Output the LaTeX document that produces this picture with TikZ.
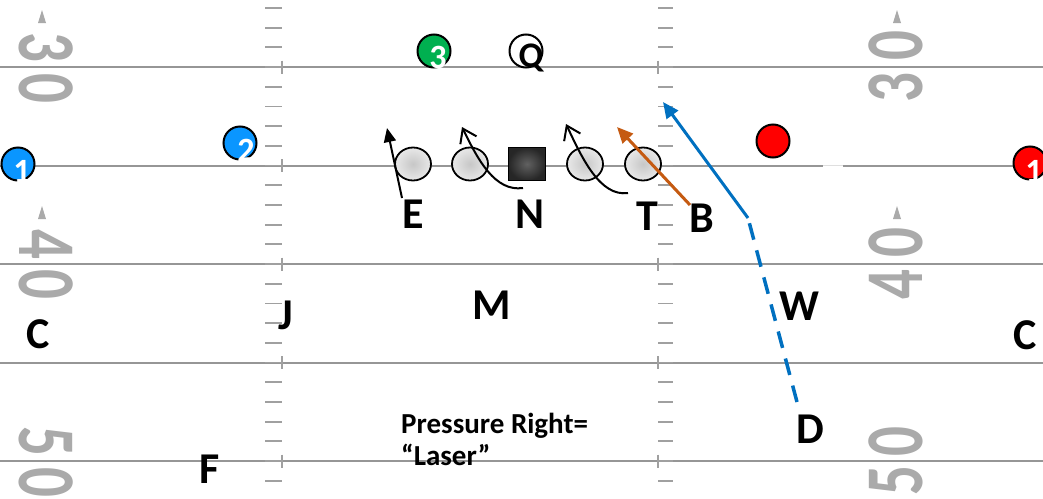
\documentclass[tikz,border=0pt]{standalone}
\usepackage{fontspec}
\setmainfont{Carlito}
\usetikzlibrary{arrows.meta,shapes.geometric}

\definecolor{fieldline}{RGB}{150,150,150}
\definecolor{hashgray}{RGB}{160,160,160}
\definecolor{numgray}{RGB}{170,170,170}
\definecolor{pblue}{RGB}{10,150,255}
\definecolor{pgreen}{RGB}{0,176,80}
\definecolor{pred}{RGB}{255,0,0}
\definecolor{rushblue}{RGB}{0,112,192}
\definecolor{rushbrown}{RGB}{197,90,17}

% narrow digits for the painted yard numbers
\newcommand\fielddigit[1]{\scalebox{0.72}[1]{#1}}

\begin{document}
\begin{tikzpicture}[x=1pt,y=-1pt,
  yardline/.style={draw=fieldline,line width=2pt},
  hashmark/.style={draw=hashgray,line width=1.8pt},
  yardnum/.style={text=numgray,inner sep=0pt,font=\fontsize{82}{82}\selectfont\bfseries},
  numarrow/.style={fill=numgray},
  player/.style={circle,draw=black,line width=2pt,minimum size=33pt,inner sep=0pt},
  pnum/.style={text=white,inner sep=0pt,font=\fontsize{34}{34}\selectfont\bfseries},
  lineman/.style={ellipse,draw=black,line width=1.8pt,minimum width=36pt,minimum height=33pt,
    inner sep=0pt,inner color=black!22,outer color=black!9},
  snapper/.style={rectangle,draw=black,line width=1.8pt,minimum width=37pt,minimum height=33pt,
    inner sep=0pt,inner color=black!62,outer color=black!85},
  lbl/.style={inner sep=0pt,font=\fontsize{44}{44}\selectfont\bfseries},
  note/.style={inner sep=0pt,font=\fontsize{29}{29}\selectfont\bfseries},
  blkpath/.style={draw=black,line width=2pt},
  openhead/.style={-{Straight Barb[length=13pt,width=18pt]}},
  solidhead/.style={-{Triangle[length=16pt,width=14pt]}}
]
\useasboundingbox (0,0) rectangle (1043,498);
\clip (0,0) rectangle (1043,498);
\fill[white] (0,0) rectangle (1043,498);

% yard lines
\foreach \yy in {67,264,362.5,461}
  \draw[yardline] (0,\yy) -- (1043,\yy);
\draw[yardline] (0,165.5) -- (823,165.5);
\draw[draw=fieldline!30,line width=1.5pt] (823,165.5) -- (843,165.5);
\draw[yardline] (843,165.5) -- (1043,165.5);

% hash marks, one per yard
\foreach \i in {-3,...,21}{
  \pgfmathsetmacro{\yy}{67+19.7*\i}
  \draw[hashmark] (265,\yy) -- (282,\yy);
  \draw[hashmark] (658,\yy) -- (673,\yy);
}
\foreach \yy in {67,165.5,264,362.5,461}{
  \draw[hashmark] (282,\yy-6.5) -- (282,\yy+6.5);
  \draw[hashmark] (658,\yy-6.5) -- (658,\yy+6.5);
}

% yard numbers, left side
\node[yardnum,rotate=-90] (l30a) at (46,47) {\fielddigit{3}};
\node[yardnum,rotate=-90] (l30b) at (46,88) {\fielddigit{0}};
\node[yardnum,rotate=-90] (l40a) at (46,244) {\fielddigit{4}};
\node[yardnum,rotate=-90] (l40b) at (46,284) {\fielddigit{0}};
\node[yardnum,rotate=-90] (l50a) at (46,441) {\fielddigit{5}};
\node[yardnum,rotate=-90] (l50b) at (46,482) {\fielddigit{0}};
\fill[numarrow] (38,23) -- (46,23) -- (42,10) -- cycle;
\fill[numarrow] (38,219) -- (46,219) -- (42,206) -- cycle;

% yard numbers, right side
\node[yardnum,rotate=90] (r30a) at (896,46) {\fielddigit{0}};
\node[yardnum,rotate=90] (r30b) at (896,88) {\fielddigit{3}};
\node[yardnum,rotate=90] (r40a) at (896,243) {\fielddigit{0}};
\node[yardnum,rotate=90] (r40b) at (896,285) {\fielddigit{4}};
\node[yardnum,rotate=90] (r50a) at (896,442) {\fielddigit{0}};
\node[yardnum,rotate=90] (r50b) at (896,481) {\fielddigit{5}};
\fill[numarrow] (893,23) -- (901,23) -- (897,10) -- cycle;
\fill[numarrow] (893,219) -- (901,219) -- (897,206) -- cycle;

% receivers and backs
\node[player,fill=pblue] (rec1) at (18,164) {};
\node[pnum] (rec1n) at (22,171) {1};
\node[player,fill=pblue] (rec2) at (240,143) {};
\node[pnum] (rec2n) at (246,150) {2};
\node[player,fill=pgreen] (rec3) at (434,51) {};
\node[pnum] (rec3n) at (438,57) {3};
\node[player,fill=white] (qb) at (526,51) {};
\node[inner sep=0pt,font=\fontsize{36}{36}\selectfont\bfseries] (qbn) at (531,58) {Q};
\node[player,fill=pred] (redx) at (773,141) {};
\node[player,fill=pred] (red1) at (1030,163) {};
\node[pnum] (red1n) at (1034,171) {1};

% offensive line
\node[lineman] (ol1) at (413,164) {};
\node[lineman] (ol2) at (470,164) {};
\node[snapper] (ctr) at (527,164) {};
\node[lineman] (ol4) at (585,164) {};
\node[lineman] (ol5) at (643,164) {};

% defenders
\node[lbl] (dE) at (413,214) {E};
\node[lbl] (dN) at (530,214) {N};
\node[lbl] (dT) at (647,216) {T};
\node[lbl] (dB) at (702,218) {B};
\node[lbl] (dM) at (492,305) {M};
\node[lbl] (dJ) at (286,315) {J};
\node[lbl] (dW) at (799,306) {W};
\node[lbl] (dCl) at (38,334) {C};
\node[lbl] (dCr) at (1025,335) {C};
\node[lbl] (dD) at (810,429) {D};
\node[lbl] (dF) at (210,469) {F};

% call name
\node[note,anchor=base west] (call1) at (401,433) {Pressure Right=};
\node[note,anchor=base west] (call2) at (401,465) {“Laser”};

% rush paths
\coordinate (eS) at (402,198);
\coordinate (eT) at (387,128);
\draw[blkpath,-{Triangle[length=14pt,width=12pt]}] (eS) -- (eT);

\coordinate (nS) at (523,188);
\coordinate (nT) at (462,127);
\draw[blkpath,openhead] (nS) .. controls (495,192) and (478,160) .. (nT);

\coordinate (tS) at (628,193);
\coordinate (tT) at (566,124);
\draw[blkpath,openhead] (tS) .. controls (600,197) and (582,158) .. (tT);

\coordinate (bS) at (690,205);
\coordinate (bT) at (617,127);
\draw[draw=rushbrown,line width=3pt,solidhead,rushbrown] (bS) -- (bT);

\coordinate (dS) at (797,402);
\coordinate (wS) at (748,218);
\coordinate (wT) at (663,102);
\draw[draw=rushblue,line width=3.5pt,dash pattern=on 17pt off 11pt] (dS) -- (wS);
\draw[draw=rushblue,line width=3pt,solidhead,rushblue] (wS) -- (wT);
\end{tikzpicture}
\end{document}
